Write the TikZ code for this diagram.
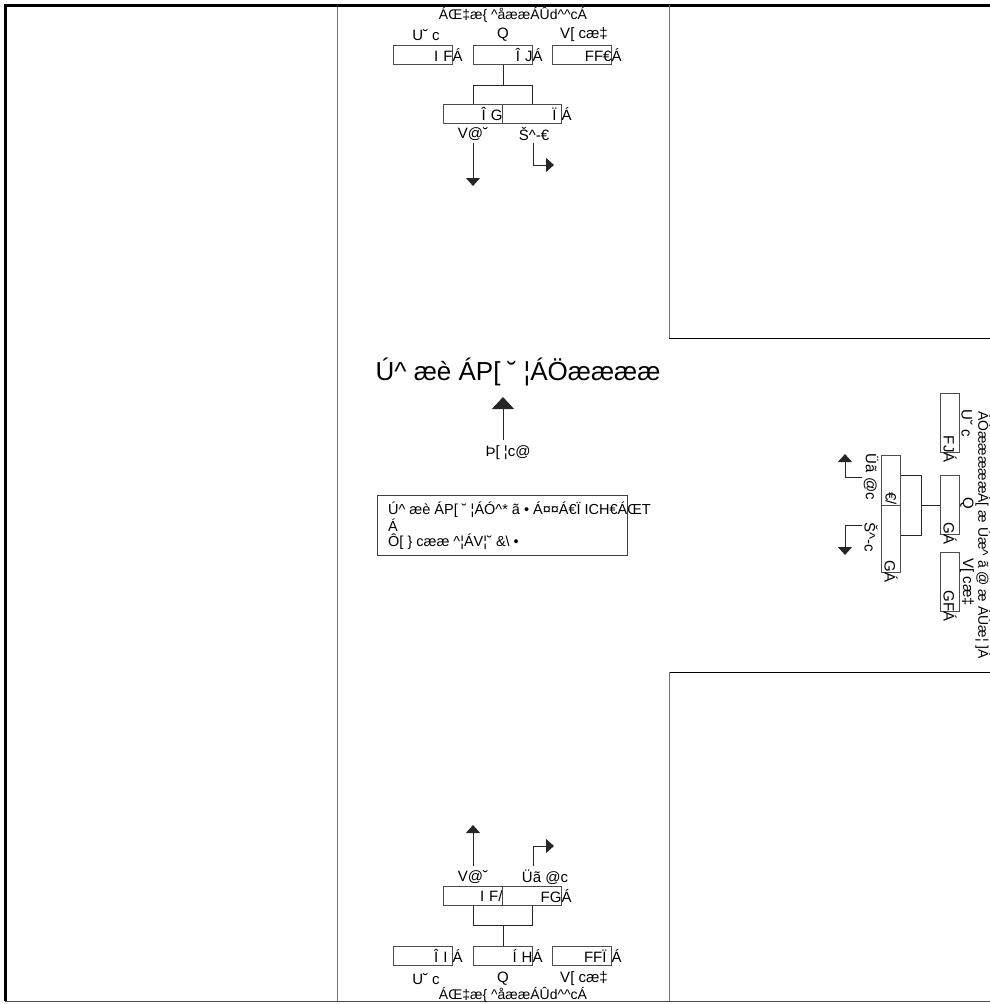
\documentclass[tikz,border=0pt]{standalone}
\usepackage{fontspec}
\setmainfont{Liberation Sans}
\usetikzlibrary{arrows.meta}
\newcommand\crt{\textasciicircum}
\begin{document}
\begin{tikzpicture}[x=1pt,y=-1pt,
  lbl/.style={font=\fontsize{15}{17}\selectfont, inner sep=0pt},
  ttl/.style={font=\fontsize{14}{16}\selectfont, inner sep=0pt},
  laneb/.style={draw=black!70, line width=0.8pt, minimum width=59pt, minimum height=19.5pt,
     inner sep=0pt, text width=59pt, align=right, font=\fontsize{15}{17}\selectfont},
  conn/.style={draw=black!85, line width=0.8pt},
  arr/.style={draw=black!85, line width=0.8pt, -{Triangle[width=14pt,length=8pt]}},
  bigarr/.style={draw=black!85, line width=0.8pt, -{Triangle[width=22pt,length=12pt]}}]
\useasboundingbox (0,0) rectangle (990,1004);
% frame
\draw[black!55, line width=1pt] (337,5) -- (337,1001);
\draw[black!70, line width=1pt] (5,1001) -- (995,1001);
\draw[black, line width=3pt] (5,1001) -- (5,5) -- (995,5);
\draw[black!55, line width=1pt] (669,5) -- (669,338);
\draw[black, line width=1pt] (669,338) -- (995,338);
\draw[black, line width=1pt] (669,672) -- (995,672);
\draw[black!55, line width=1pt] (669,672) -- (669,1001);

% ===== top diagram =====
\node[ttl] (t-title) at (513,15) {ÁŒ‡æ\{ \crt{}åææÁÛd\crt{}\crt{}cÁ};
\node[lbl] (t-l1) at (426,35) {U˘ c};
\node[lbl] (t-l2) at (503,35) {Q};
\node[lbl] (t-l3) at (584,35) {V[ cæ‡};
\node[laneb] (t-b1) at (423,55) {I F\rlap{Á}};
\node[laneb] (t-b2) at (503,55) {Î J\rlap{Á}};
\node[laneb] (t-b3) at (582,55) {FF€\rlap{Á}};
\node[laneb] (t-b4) at (473,114) {Î G};
\node[laneb] (t-b5) at (532,114) {Ï \rlap{Á}};
\draw[conn] (t-b2.south) -- ++(0,20) -| (t-b4.north);
\draw[conn] (t-b2.south) -- ++(0,20) -| (t-b5.north);
\node[lbl] (t-l4) at (473,134) {V@˘};
\node[lbl] (t-l5) at (534,134) {Š\crt{}-€};
\coordinate (t-s1) at (473,143);
\coordinate (t-s2) at (533,143);
\coordinate (t-a1) at (473,186);
\coordinate (t-a2) at (554,165);
\draw[arr] (t-s1) -- (t-a1);
\draw[arr] (t-s2) |- (t-a2);

% ===== middle =====
\node[inner sep=0pt, font=\fontsize{26}{30}\selectfont] (m-title) at (518,372) {Ú\crt{} æè ÁP[ ˘ ¦ÁÖææææ};
\node[lbl] (m-lbl) at (508,453) {Þ[ ¦c@};
\coordinate (m-s) at (503,440);
\coordinate (m-tip) at (503,397);
\draw[bigarr] (m-s) -- (m-tip);
\node[draw=black!75, line width=0.8pt, minimum width=250pt, minimum height=60pt, inner sep=0pt] (m-box) at (502,525) {};
\node[anchor=north west, inner sep=0pt, align=left, font=\fontsize{14.5}{15}\selectfont] (m-txt) at (388,502)
  {Ú\crt{} æè ÁP[ ˘ ¦ÁÓ\crt{}* ã • Á¤¤Á€Ï ICH€ÁŒT\\ Á\\ Ô[ \} cææ \crt{}¦ÁV¦˘ \&\textbackslash{} •};

% ===== right diagram (rotated) =====
\node[ttl, rotate=-90] (r-title) at (983,535) {ÁÒæææææÁ[ æ Úæ\crt{} ã @ æ ÁÙæ¦ ]Á};
\node[lbl, rotate=-90] (r-l1) at (967,423) {U˘ c};
\node[lbl, rotate=-90] (r-l2) at (967,503) {Q};
\node[lbl, rotate=-90] (r-l3) at (967,582) {V[ cæ‡};
\node[laneb, rotate=-90] (r-b1) at (950,423) {FJ\rlap{Á}};
\node[laneb, rotate=-90] (r-b2) at (950,505) {G\rlap{Á}};
\node[laneb, rotate=-90] (r-b3) at (950,582) {GF\rlap{Á}};
\node[laneb, rotate=-90, minimum width=50pt, text width=50pt] (r-b4) at (891,480) {€/};
\node[laneb, rotate=-90, minimum width=67pt, text width=67pt] (r-b5) at (891,538.5) {G\rlap{Á}};
\draw[conn] (r-b2.south) -- ++(-18,0) |- ([yshift=5pt]r-b4.north);
\draw[conn] (r-b2.south) -- ++(-18,0) |- ([yshift=3.5pt]r-b5.north);
\node[lbl, rotate=-90] (r-l4) at (871,477) {Üã @c};
\node[lbl, rotate=-90] (r-l5) at (871,537) {Š\crt{}-c};
\coordinate (r-s1) at (862,477);
\coordinate (r-s2) at (862,525);
\coordinate (r-a1) at (845,454);
\coordinate (r-a2) at (845,555);
\draw[arr] (r-s1) -| (r-a1);
\draw[arr] (r-s2) -| (r-a2);

% ===== bottom diagram =====
\node[ttl] (b-title) at (513,995) {ÁŒ‡æ\{ \crt{}åææÁÛd\crt{}\crt{}cÁ};
\node[lbl] (b-l1) at (426,979) {U˘ c};
\node[lbl] (b-l2) at (503,979) {Q};
\node[lbl] (b-l3) at (584,979) {V[ cæ‡};
\node[laneb] (b-b1) at (423,956) {Î I \rlap{Á}};
\node[laneb] (b-b2) at (503,956) {Í H\rlap{Á}};
\node[laneb] (b-b3) at (582,956) {FFÏ \rlap{Á}};
\node[laneb] (b-b4) at (473,896) {I F/};
\node[laneb] (b-b5) at (532,896) {FG\rlap{Á}};
\draw[conn] (b-b2.north) -- ++(0,-20) -| (b-b4.south);
\draw[conn] (b-b2.north) -- ++(0,-20) -| (b-b5.south);
\node[lbl] (b-l4) at (473,877) {V@˘};
\node[lbl] (b-l5) at (545,877) {Üã @c};
\coordinate (b-s1) at (473,866);
\coordinate (b-s2) at (533,866);
\coordinate (b-a1) at (473,825);
\coordinate (b-a2) at (554,846);
\draw[arr] (b-s1) -- (b-a1);
\draw[arr] (b-s2) |- (b-a2);
\end{tikzpicture}
\end{document}
